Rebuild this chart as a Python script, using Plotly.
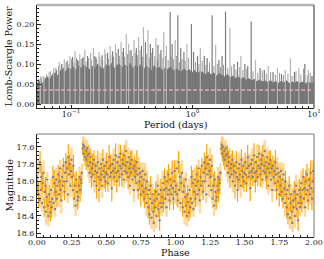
import math
import plotly.graph_objects as go
from plotly.subplots import make_subplots

# ---------------- Periodogram data ----------------
core_period = [0.0525, 0.055, 0.058, 0.061, 0.064, 0.067, 0.07, 0.074, 0.078, 0.082,
               0.086, 0.09, 0.095, 0.1, 0.105, 0.11, 0.116, 0.122, 0.128, 0.135,
               0.142, 0.15, 0.158, 0.166, 0.175, 0.184, 0.194, 0.204, 0.215, 0.226,
               0.238, 0.25, 0.263, 0.277, 0.291, 0.306, 0.322, 0.339, 0.357, 0.376,
               0.395, 0.416, 0.438, 0.461, 0.485, 0.51, 0.537, 0.565, 0.595, 0.626,
               0.659, 0.694, 0.73, 0.768, 0.808, 0.85, 0.895, 0.942, 0.99, 1.04,
               1.1, 1.16, 1.22, 1.28, 1.35, 1.42, 1.5, 1.58, 1.66, 1.75,
               1.84, 1.94, 2.04, 2.15, 2.26, 2.38, 2.5, 2.63, 2.77, 2.91,
               3.06, 3.22, 3.39, 3.57, 3.76, 3.95, 4.16, 4.38, 4.61, 4.85,
               5.1, 5.37, 5.65, 5.95, 6.26, 6.59, 6.94, 7.3, 7.68, 8.08,
               8.5, 8.95, 9.42, 10.0]
core_power = [0.052, 0.058, 0.050, 0.062, 0.068, 0.060, 0.072, 0.078, 0.070, 0.083,
              0.088, 0.080, 0.090, 0.086, 0.093, 0.083, 0.096, 0.088, 0.098, 0.090,
              0.086, 0.095, 0.088, 0.100, 0.092, 0.086, 0.098, 0.093, 0.102, 0.088,
              0.096, 0.100, 0.090, 0.098, 0.093, 0.102, 0.088, 0.096, 0.092, 0.098,
              0.086, 0.094, 0.090, 0.083, 0.096, 0.088, 0.092, 0.084, 0.090, 0.086,
              0.093, 0.082, 0.088, 0.084, 0.080, 0.088, 0.082, 0.086, 0.078, 0.084,
              0.076, 0.082, 0.078, 0.074, 0.080, 0.073, 0.078, 0.070, 0.076, 0.072,
              0.068, 0.074, 0.066, 0.070, 0.064, 0.068, 0.062, 0.066, 0.060, 0.064,
              0.058, 0.062, 0.056, 0.060, 0.055, 0.058, 0.054, 0.059, 0.053, 0.056,
              0.052, 0.057, 0.053, 0.058, 0.051, 0.055, 0.053, 0.056, 0.052, 0.055,
              0.051, 0.054, 0.052, 0.053]

mid_peak_period = [0.054, 0.057, 0.059, 0.063, 0.068, 0.071, 0.075, 0.079, 0.083, 0.087,
                   0.091, 0.096, 0.101, 0.106, 0.111, 0.115, 0.121, 0.127, 0.133, 0.140,
                   0.147, 0.156, 0.163, 0.173, 0.182, 0.193, 0.203, 0.213, 0.224, 0.236,
                   0.250, 0.264, 0.276, 0.292, 0.305, 0.320, 0.338, 0.352, 0.370, 0.388,
                   0.420, 0.440, 0.462, 0.490, 0.515, 0.540, 0.570, 0.600, 0.630, 0.665,
                   0.700, 0.740, 0.780, 0.820, 0.870, 0.930, 1.060, 1.130, 1.200, 1.290,
                   1.380, 1.500, 1.600, 1.700, 1.800, 1.950, 2.100, 2.280, 2.450, 2.600,
                   2.800, 3.150, 3.450, 3.750, 4.050, 4.400, 4.800, 5.200, 5.600, 6.100,
                   6.600, 7.100, 7.800, 8.200, 8.800, 9.300, 9.800]
mid_peak_power = [0.062, 0.066, 0.070, 0.074, 0.082, 0.078, 0.090, 0.094, 0.098, 0.092,
                  0.104, 0.100, 0.112, 0.104, 0.115, 0.108, 0.112, 0.118, 0.106, 0.115,
                  0.110, 0.120, 0.112, 0.118, 0.110, 0.125, 0.114, 0.122, 0.118, 0.128,
                  0.120, 0.130, 0.118, 0.125, 0.132, 0.120, 0.128, 0.122, 0.135, 0.118,
                  0.125, 0.115, 0.128, 0.120, 0.112, 0.125, 0.115, 0.120, 0.110, 0.118,
                  0.112, 0.120, 0.105, 0.112, 0.108, 0.115, 0.105, 0.100, 0.108, 0.098,
                  0.104, 0.095, 0.100, 0.092, 0.098, 0.090, 0.094, 0.086, 0.092, 0.085,
                  0.088, 0.082, 0.078, 0.084, 0.076, 0.080, 0.074, 0.078, 0.072, 0.076,
                  0.070, 0.082, 0.074, 0.088, 0.072, 0.078, 0.070]

light_peak_period = [0.056, 0.060, 0.066, 0.072, 0.080, 0.088, 0.098, 0.108, 0.118, 0.130,
                     0.145, 0.153, 0.170, 0.190, 0.210, 0.232, 0.258, 0.285, 0.298, 0.330,
                     0.360, 0.395, 0.430, 0.500, 0.580, 0.610, 0.720, 0.900, 1.160, 1.550,
                     2.030, 2.500, 3.300, 4.200, 5.000, 5.800, 6.400, 7.500, 9.000]
light_peak_power = [0.070, 0.068, 0.080, 0.090, 0.105, 0.112, 0.120, 0.132, 0.125, 0.135,
                    0.128, 0.140, 0.130, 0.138, 0.145, 0.150, 0.155, 0.175, 0.150, 0.160,
                    0.168, 0.192, 0.185, 0.165, 0.180, 0.145, 0.160, 0.150, 0.140, 0.148,
                    0.190, 0.120, 0.110, 0.095, 0.090, 0.085, 0.114, 0.090, 0.085]

dark_peak_period = [0.076, 0.084, 0.093, 0.103, 0.113, 0.124, 0.137, 0.160, 0.180, 0.200,
                    0.220, 0.245, 0.270, 0.312, 0.345, 0.380, 0.410, 0.450, 0.470, 0.520,
                    0.550, 0.655, 0.680, 0.757, 0.800, 0.850, 0.980, 1.020, 1.100, 1.250,
                    1.320, 1.450, 1.650, 1.750, 1.870, 2.200, 2.350, 2.700, 2.850, 3.040,
                    3.600, 3.900, 4.600, 5.400, 6.900, 8.400, 9.600]
dark_peak_power = [0.085, 0.100, 0.108, 0.118, 0.110, 0.115, 0.120, 0.118, 0.122, 0.128,
                   0.132, 0.138, 0.140, 0.135, 0.140, 0.145, 0.155, 0.150, 0.140, 0.148,
                   0.135, 0.230, 0.150, 0.222, 0.140, 0.130, 0.200, 0.130, 0.120, 0.120,
                   0.115, 0.222, 0.110, 0.120, 0.231, 0.100, 0.105, 0.100, 0.095, 0.206,
                   0.090, 0.085, 0.080, 0.075, 0.080, 0.100, 0.070]

fap_level = 0.035

# ---------------- Folded light curve (one cycle) ----------------
phase = [0.003, 0.008, 0.012, 0.018, 0.022, 0.027, 0.031, 0.036, 0.041, 0.047,
         0.052, 0.056, 0.061, 0.065, 0.070, 0.074, 0.079, 0.083, 0.088, 0.093, 0.097,
         0.102, 0.106, 0.111, 0.115, 0.120, 0.125, 0.130, 0.134, 0.139, 0.144, 0.148,
         0.153, 0.158, 0.162, 0.167, 0.171, 0.176, 0.181, 0.185, 0.190, 0.195, 0.199,
         0.204, 0.208, 0.213, 0.217, 0.222, 0.226, 0.231, 0.235, 0.240, 0.245, 0.249,
         0.254, 0.259, 0.263, 0.268, 0.273, 0.278, 0.283, 0.288, 0.293, 0.298,
         0.302, 0.307, 0.311, 0.316, 0.320, 0.325, 0.330, 0.334, 0.338, 0.343, 0.347,
         0.352, 0.356, 0.361, 0.365, 0.370, 0.375, 0.379, 0.384, 0.388, 0.393, 0.397,
         0.402, 0.406, 0.411, 0.415, 0.420, 0.425, 0.430, 0.434, 0.439, 0.444, 0.448,
         0.453, 0.457, 0.462, 0.466, 0.471, 0.476, 0.480, 0.485, 0.489, 0.494, 0.498,
         0.503, 0.507, 0.512, 0.516, 0.521, 0.526, 0.530, 0.535, 0.540, 0.544, 0.549,
         0.553, 0.558, 0.562, 0.567, 0.571, 0.576, 0.580, 0.585, 0.590, 0.594, 0.599,
         0.603, 0.608, 0.612, 0.617, 0.621, 0.626, 0.630, 0.635, 0.640, 0.644, 0.649,
         0.653, 0.658, 0.662, 0.667, 0.671, 0.676, 0.680, 0.685, 0.690, 0.694, 0.699,
         0.703, 0.708, 0.712, 0.717, 0.721, 0.726, 0.730, 0.735, 0.740, 0.744, 0.749,
         0.753, 0.758, 0.762, 0.767, 0.771, 0.776, 0.780, 0.785, 0.790, 0.794, 0.799,
         0.803, 0.808, 0.812, 0.817, 0.821, 0.826, 0.830, 0.835, 0.840, 0.844, 0.849,
         0.853, 0.858, 0.862, 0.867, 0.871, 0.876, 0.880, 0.885, 0.890, 0.894, 0.899,
         0.903, 0.908, 0.912, 0.917, 0.921, 0.926, 0.930, 0.935, 0.940, 0.944, 0.949,
         0.953, 0.958, 0.962, 0.967, 0.971, 0.976, 0.980, 0.985, 0.990, 0.994, 0.998]
mag = [18.05, 17.85, 18.15, 18.22, 17.78, 18.10, 17.95, 18.25, 18.02, 17.90,
       18.30, 18.12, 18.05, 18.35, 18.18, 17.98, 18.28, 18.40, 18.15, 18.24, 18.36,
       18.10, 18.30, 18.20, 17.95, 18.25, 18.02, 18.32, 18.12, 17.98, 18.20, 18.05,
       17.92, 18.15, 18.00, 17.85, 18.10, 18.22, 17.95, 18.05, 17.82, 18.00, 18.12,
       17.90, 17.78, 18.00, 17.85, 18.15, 17.72, 17.92, 17.80, 18.05, 17.88, 17.75,
       17.95, 18.10, 17.82, 18.20, 18.05, 18.28, 17.98, 18.12, 18.22, 18.18,
       18.05, 17.95, 18.10, 17.98, 18.02, 17.90, 17.62, 17.58, 17.68, 17.60, 17.72,
       17.65, 17.75, 17.62, 17.70, 17.82, 17.68, 17.90, 17.78, 17.72, 17.95, 17.85,
       17.80, 17.92, 17.75, 18.00, 17.88, 17.82, 18.05, 17.90, 17.78, 17.95, 18.10,
       17.85, 17.98, 17.80, 17.92, 18.05, 17.75, 17.88, 17.95, 17.82, 18.00, 17.90,
       17.78, 17.92, 18.02, 17.85, 17.72, 17.95, 17.82, 17.90, 18.08, 17.80, 17.88,
       17.75, 17.95, 17.85, 17.70, 17.90, 18.00, 17.78, 17.88, 17.72, 17.95, 17.82,
       17.68, 17.85, 17.92, 17.75, 17.80, 17.98, 17.70, 17.88, 17.82, 17.65, 17.90,
       17.78, 17.95, 17.72, 17.85, 18.05, 17.80, 17.90, 17.75, 17.98, 17.85, 18.10,
       17.82, 17.95, 17.88, 18.02, 17.78, 17.92, 18.10, 17.85, 18.00, 17.90, 18.15,
       17.95, 18.05, 17.88, 18.12, 17.98, 18.20, 17.92, 18.08, 18.25, 18.00, 18.15,
       18.30, 18.10, 18.38, 18.20, 18.05, 18.42, 18.25, 18.15, 18.35, 18.48, 18.22,
       18.30, 18.12, 18.40, 18.20, 18.05, 18.32, 18.15, 18.45, 18.25, 18.10, 18.30,
       18.18, 18.02, 18.25, 18.10, 17.95, 18.20, 18.08, 18.30, 18.00, 18.15, 17.92,
       18.10, 18.22, 17.98, 18.05, 18.15, 17.90, 18.08, 18.20, 18.00, 17.88, 18.12]
mag_err = [0.12, 0.10, 0.14, 0.09, 0.13, 0.11, 0.15, 0.10, 0.12, 0.14,
           0.11, 0.13, 0.10, 0.15, 0.12, 0.09, 0.14, 0.12, 0.11, 0.13, 0.10,
           0.14, 0.12, 0.10, 0.13, 0.11, 0.15, 0.09, 0.12, 0.14, 0.10, 0.13,
           0.11, 0.14, 0.12, 0.10, 0.13, 0.15, 0.11, 0.12, 0.09, 0.14, 0.10,
           0.13, 0.11, 0.12, 0.14, 0.10, 0.15, 0.12, 0.11, 0.13, 0.09, 0.14,
           0.12, 0.10, 0.13, 0.11, 0.14, 0.12, 0.10, 0.15, 0.11, 0.13,
           0.10, 0.12, 0.14, 0.09, 0.13, 0.11, 0.08, 0.10, 0.09, 0.11, 0.10,
           0.09, 0.12, 0.10, 0.11, 0.13, 0.10, 0.12, 0.14, 0.11, 0.13, 0.10,
           0.12, 0.14, 0.11, 0.13, 0.10, 0.12, 0.15, 0.11, 0.13, 0.10, 0.14,
           0.12, 0.11, 0.13, 0.10, 0.14, 0.12, 0.11, 0.13, 0.10, 0.12, 0.14,
           0.11, 0.13, 0.10, 0.12, 0.14, 0.11, 0.13, 0.10, 0.15, 0.12, 0.11,
           0.13, 0.10, 0.12, 0.14, 0.11, 0.13, 0.10, 0.12, 0.15, 0.11, 0.13,
           0.10, 0.12, 0.14, 0.11, 0.13, 0.10, 0.12, 0.14, 0.11, 0.13, 0.10,
           0.12, 0.14, 0.11, 0.13, 0.10, 0.15, 0.12, 0.11, 0.13, 0.10, 0.14,
           0.12, 0.11, 0.13, 0.10, 0.14, 0.12, 0.11, 0.13, 0.10, 0.12, 0.14,
           0.11, 0.13, 0.10, 0.12, 0.14, 0.11, 0.13, 0.10, 0.15, 0.12, 0.11,
           0.13, 0.10, 0.12, 0.14, 0.11, 0.13, 0.10, 0.12, 0.14, 0.11, 0.13,
           0.10, 0.12, 0.14, 0.11, 0.13, 0.10, 0.15, 0.12, 0.11, 0.13, 0.10,
           0.12, 0.14, 0.11, 0.13, 0.10, 0.12, 0.14, 0.11, 0.13, 0.10, 0.12,
           0.14, 0.11, 0.13, 0.10, 0.12, 0.14, 0.11, 0.13, 0.10, 0.12, 0.14]

n_cycles = 2

FONT = "DejaVu Serif"
TICK_SIZE = 8
TITLE_SIZE = 9.5

fig = make_subplots(rows=2, cols=1, vertical_spacing=0.11)


def spikes(px, py):
    xs, ys = [], []
    for p, v in zip(px, py):
        xs += [p, p, None]
        ys += [0, v, None]
    return xs, ys


# periodogram: moderate spikes, core forest, light and dark tall spikes
mx, my = spikes(mid_peak_period, mid_peak_power)
fig.add_trace(go.Scatter(x=mx, y=my, mode="lines", line=dict(color="#9a9a9a", width=1.0),
                         hoverinfo="skip", showlegend=False), row=1, col=1)
fig.add_trace(go.Scatter(x=core_period, y=core_power, mode="lines", fill="tozeroy",
                         line=dict(color="#737373", width=0.8), fillcolor="#757575",
                         hoverinfo="skip", showlegend=False), row=1, col=1)
lx, ly = spikes(light_peak_period, light_peak_power)
fig.add_trace(go.Scatter(x=lx, y=ly, mode="lines", line=dict(color="#b4b4b4", width=1.2),
                         hoverinfo="skip", showlegend=False), row=1, col=1)
dx, dy = spikes(dark_peak_period, dark_peak_power)
fig.add_trace(go.Scatter(x=dx, y=dy, mode="lines", line=dict(color="#7c7c7c", width=1.2),
                         hoverinfo="skip", showlegend=False), row=1, col=1)

fig.add_trace(go.Scatter(x=[core_period[0], core_period[-1]], y=[fap_level, fap_level],
                         mode="lines", line=dict(color="rgb(222,170,190)", width=1.3, dash="4px,2px"),
                         hoverinfo="skip", showlegend=False), row=1, col=1)

# folded light curve, repeated over n_cycles
ph_all, mag_all, err_all = [], [], []
for c in range(n_cycles):
    ph_all += [p + c for p in phase]
    mag_all += mag
    err_all += mag_err

fig.add_trace(go.Scatter(x=ph_all[1::2], y=mag_all[1::2], mode="markers",
                         marker=dict(size=0.1, color="rgba(0,0,0,0)"),
                         error_y=dict(type="data", array=err_all[1::2], color="rgba(255,200,110,0.7)",
                                      thickness=2.4, width=0),
                         hoverinfo="skip", showlegend=False), row=2, col=1)
fig.add_trace(go.Scatter(x=ph_all[0::2], y=mag_all[0::2], mode="markers",
                         marker=dict(size=0.1, color="rgba(0,0,0,0)"),
                         error_y=dict(type="data", array=err_all[0::2], color="#ffa500",
                                      thickness=1.2, width=0),
                         hoverinfo="skip", showlegend=False), row=2, col=1)
fig.add_trace(go.Scatter(x=ph_all, y=mag_all, mode="markers",
                         marker=dict(size=2.4, color="#858585", line=dict(width=0)),
                         hoverinfo="skip", showlegend=False), row=2, col=1)

minor_log = [m * 10 ** e for e in (-2, -1, 0) for m in range(2, 10) if 0.0525 <= m * 10 ** e <= 10]

axis_common = dict(showline=True, linecolor="#222", linewidth=1, ticks="inside",
                   tickcolor="#222", ticklen=3.5, showgrid=False, zeroline=False,
                   automargin=False,
                   tickfont=dict(family=FONT, size=TICK_SIZE, color="#222"))

fig.update_xaxes(type="log", range=[math.log10(0.0525), 1.0],
                 tickvals=[0.1, 1, 10],
                 ticktext=["10<sup>−1</sup>", "10<sup>0</sup>", "10<sup>1</sup>"],
                 ticklabelstandoff=-2,
                 minor=dict(tickvals=minor_log, ticks="inside", ticklen=2, tickcolor="#222"),
                 **axis_common, row=1, col=1)
fig.update_yaxes(range=[-0.01, 0.2475], tickvals=[0, 0.05, 0.1, 0.15, 0.2], tickformat=".2f",
                 minor=dict(dtick=0.01, ticks="inside", ticklen=2, tickcolor="#222"),
                 **axis_common, row=1, col=1)
fig.update_xaxes(range=[0, 2], dtick=0.25, tick0=0, tickformat=".2f",
                 ticklabelstandoff=-3,
                 minor=dict(dtick=0.05, ticks="inside", ticklen=2, tickcolor="#222"),
                 **axis_common, row=2, col=1)
fig.update_yaxes(range=[18.643, 17.453], dtick=0.2, tick0=17.6, tickformat=".1f",
                 minor=dict(dtick=0.05, ticks="inside", ticklen=2, tickcolor="#222"),
                 **axis_common, row=2, col=1)

# top/right frame lines
fig.add_shape(type="line", xref="x domain", yref="y domain", x0=0, x1=1, y0=1, y1=1,
              line=dict(color="#b4b4b4", width=2.5))
fig.add_shape(type="line", xref="x domain", yref="y domain", x0=1, x1=1, y0=0, y1=1,
              line=dict(color="#7a7a7a", width=1.6))
fig.add_shape(type="line", xref="x2 domain", yref="y2 domain", x0=0, x1=1, y0=1, y1=1,
              line=dict(color="#777", width=1))
fig.add_shape(type="line", xref="x2 domain", yref="y2 domain", x0=1, x1=1, y0=0, y1=1,
              line=dict(color="#777", width=1))

# axis titles (paper coords span the plotting area inside the margins)
L, R, T, B, W, H = 37, 10, 5, 22, 324, 259
PW, PH = W - L - R, H - T - B
title_font = dict(family=FONT, size=TITLE_SIZE, color="#111")
fig.add_annotation(text="Period (days)", xref="x domain", yref="paper", x=0.5,
                   y=(H - B - 125) / PH, yanchor="middle", showarrow=False, font=title_font)
fig.add_annotation(text="Phase", xref="x2 domain", yref="paper", x=0.5,
                   y=(H - B - 259) / PH, yanchor="bottom", showarrow=False, font=title_font,
                   borderpad=0)
fig.add_annotation(text="Lomb-Scargle Power", xref="paper", yref="y domain", x=(8 - L) / PW, y=0.5,
                   xanchor="center", textangle=-90, showarrow=False, font=title_font)
fig.add_annotation(text="Magnitude", xref="paper", yref="y2 domain", x=(9 - L) / PW, y=0.5,
                   xanchor="center", textangle=-90, showarrow=False, font=title_font)

fig.update_layout(width=W, height=H, margin=dict(l=L, r=R, t=T, b=B),
                  plot_bgcolor="white", paper_bgcolor="white", showlegend=False,
                  font=dict(family=FONT))
fig.layout.yaxis.domain = [(237 - 108) / PH, 1.0]
fig.layout.yaxis2.domain = [0.0, (237 - 134) / PH]

fig.write_html("out.html", config={"displayModeBar": False},
               post_script="document.body.style.margin='0px';document.body.style.padding='0px';")
